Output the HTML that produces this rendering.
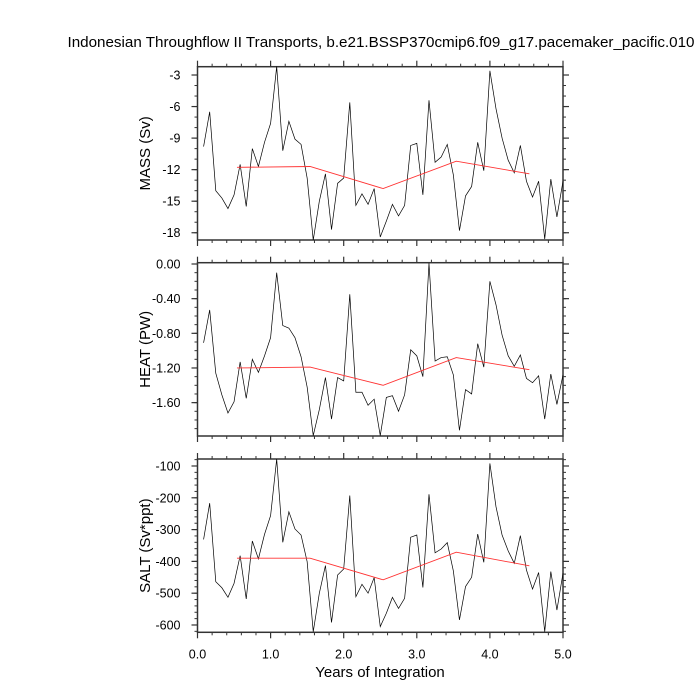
<!DOCTYPE html>
<html><head><meta charset="utf-8"><style>
body{margin:0;background:#fff}
svg{display:block;font-family:"Liberation Sans",Arial,sans-serif}
</style></head><body>
<svg id="c" width="700" height="700">
<text x="381" y="47" text-anchor="middle" font-size="15.2">Indonesian Throughflow II Transports, b.e21.BSSP370cmip6.f09_g17.pacemaker_pacific.010</text>
<text x="380" y="677" text-anchor="middle" font-size="15">Years of Integration</text>
</svg>
<script>
const massVals=[-9.8,-6.5,-14.0,-14.7,-15.7,-14.4,-11.5,-15.5,-10.0,-11.7,-9.4,-7.6,-2.2,-10.2,-7.4,-9.1,-9.6,-12.8,-18.7,-15.0,-12.4,-17.7,-13.3,-12.8,-5.6,-15.4,-14.3,-15.3,-13.8,-18.4,-16.9,-15.3,-16.4,-15.4,-9.7,-9.5,-14.4,-5.4,-11.3,-10.8,-9.6,-12.5,-17.8,-14.5,-13.6,-9.4,-12.1,-2.6,-6.2,-9.0,-11.1,-12.3,-9.7,-13.1,-14.6,-13.1,-18.6,-12.9,-16.5,-13.1];
const heatVals=[-0.91,-0.53,-1.26,-1.51,-1.72,-1.59,-1.13,-1.55,-1.10,-1.25,-1.06,-0.85,-0.10,-0.71,-0.74,-0.85,-1.07,-1.42,-1.98,-1.68,-1.31,-1.79,-1.31,-1.35,-0.35,-1.48,-1.48,-1.63,-1.56,-1.98,-1.54,-1.52,-1.70,-1.51,-0.99,-1.06,-1.30,0.01,-1.12,-1.08,-1.07,-1.28,-1.92,-1.45,-1.50,-0.92,-1.19,-0.20,-0.47,-0.82,-1.06,-1.18,-1.05,-1.32,-1.37,-1.29,-1.79,-1.27,-1.62,-1.28];
const saltVals=[-331,-217,-464,-483,-513,-469,-382,-518,-336,-392,-315,-256,-78,-340,-244,-298,-317,-401,-621,-500,-413,-592,-443,-424,-193,-511,-472,-500,-451,-605,-563,-513,-548,-516,-324,-317,-482,-189,-373,-361,-341,-430,-584,-479,-450,-314,-403,-92,-228,-317,-367,-406,-319,-427,-487,-435,-621,-432,-553,-437];
const annualTimes=[0.54,1.54,2.54,3.54,4.54];
const massAnnual=[-11.78,-11.7,-13.8,-11.2,-12.4];
const heatAnnual=[-1.20,-1.19,-1.40,-1.08,-1.22];
const saltAnnual=[-390,-390,-458,-371,-414];
const massTicks=[-3,-6,-9,-12,-15,-18];
const heatTicks=[0,-0.4,-0.8,-1.2,-1.6];
const heatTickLabels=["0.00","-0.40","-0.80","-1.20","-1.60"];
const saltTicks=[-100,-200,-300,-400,-500,-600];
const xTicks=[0,1,2,3,4,5];
const xTickLabels=["0.0","1.0","2.0","3.0","4.0","5.0"];

const NS="http://www.w3.org/2000/svg";
const svg=document.getElementById('c');
const X0=197.5,X1=563;
const sx=t=>X0+(t/5)*(X1-X0);
function mk(tag,attrs,parent){const e=document.createElementNS(NS,tag);for(const k in attrs)e.setAttribute(k,attrs[k]);(parent||svg).appendChild(e);return e;}

function panel(name,top,bot,ymax,ymin,vals,ann,ticks,labels,minorStep,title,showX){
  const g=mk('g',{});
  
  
  const sy=v=>top+(ymax-v)/(ymax-ymin)*(bot-top);
  const start=Math.ceil(ymin/minorStep), end=Math.floor(ymax/minorStep);
  for(let k=start;k<=end;k++){const y=sy(k*minorStep);
    mk('line',{x1:X0-3,x2:X0,y1:y,y2:y,stroke:'#333','stroke-width':1},g);
    mk('line',{x1:X1,x2:X1+3,y1:y,y2:y,stroke:'#333','stroke-width':1},g);}
  ticks.forEach((v,i)=>{const y=sy(v);
    mk('line',{x1:X0-6,x2:X0,y1:y,y2:y,stroke:'#333','stroke-width':1.2},g);
    mk('line',{x1:X1,x2:X1+6,y1:y,y2:y,stroke:'#333','stroke-width':1.2},g);
    const t=mk('text',{x:X0-17,y:y+4.5,'text-anchor':'end','font-size':12.5},g);
    t.textContent=labels[i];
    
    });
  for(let k=0;k<=25;k++){const x=sx(k*0.2);const maj=k%5===0;const L=maj?6:3;
    mk('line',{x1:x,x2:x,y1:top-L,y2:top,stroke:'#333','stroke-width':maj?1.2:1},g);
    mk('line',{x1:x,x2:x,y1:bot,y2:bot+L,stroke:'#333','stroke-width':maj?1.2:1},g);}
  if(showX){xTicks.forEach((v,i)=>{const t=mk('text',{x:sx(v),y:bot+26,'text-anchor':'middle','font-size':12.5},g);
    t.textContent=xTickLabels[i];
    
    });}
  const r=mk('rect',{x:X0,y:top,width:X1-X0,height:bot-top,fill:'none',stroke:'#333','stroke-width':1.5},g);
  
  
  const pts=vals.map((v,i)=>sx((i+1)/12).toFixed(2)+','+sy(v).toFixed(2)).join(' ');
  const l=mk('polyline',{points:pts,fill:'none',stroke:'#000','stroke-width':0.7},g);
  
  
  const pa=ann.map((v,i)=>sx(annualTimes[i]).toFixed(2)+','+sy(v).toFixed(2)).join(' ');
  const a=mk('polyline',{points:pa,fill:'none',stroke:'#f33','stroke-width':0.9},g);
  
  
  const cy=(top+bot)/2;
  const tt=mk('text',{x:150,y:cy,'text-anchor':'middle','font-size':15,transform:'rotate(-90 150 '+cy+')'},g);
  tt.textContent=title;
  
  
}
panel('mass',66.7,240,-2.21,-18.69,massVals,massAnnual,massTicks,massTicks.map(String),1,'MASS (Sv)',false);
panel('heat',262.7,436,0.015,-1.985,heatVals,heatAnnual,heatTicks,heatTickLabels,0.1,'HEAT (PW)',false);
panel('salt',459,632.3,-78,-623,saltVals,saltAnnual,saltTicks,saltTicks.map(String),20,'SALT (Sv*ppt)',true);
</script>
</body></html>
